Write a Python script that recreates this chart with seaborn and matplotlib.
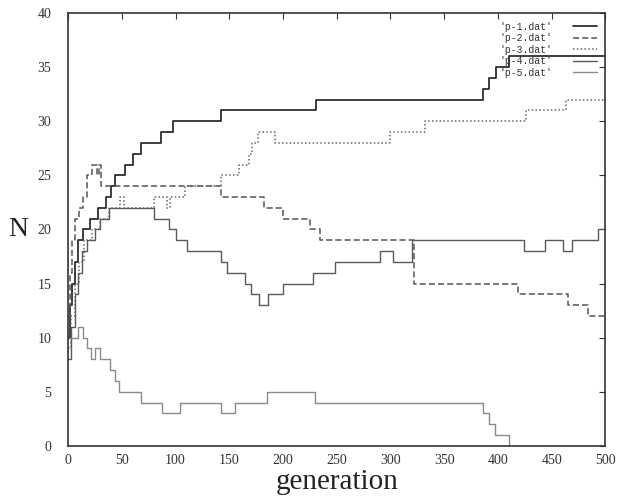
import matplotlib
matplotlib.use('Agg')
import matplotlib.pyplot as plt
import seaborn as sns
import pandas as pd

# change points (generation, N)
p1_gen = [0, 2, 4, 6, 9, 14, 20, 28, 35, 40, 44, 53, 60, 68, 86, 98, 142, 231, 386, 392, 398, 410, 500]
p1_n = [10, 13, 15, 17, 19, 20, 21, 22, 23, 24, 25, 26, 27, 28, 29, 30, 31, 32, 33, 34, 35, 36, 36]

p2_gen = [0, 2, 4, 6, 10, 14, 18, 22, 27, 29, 31, 142, 182, 200, 225, 234, 322, 419, 465, 484, 500]
p2_n = [12, 16, 19, 21, 22, 23, 25, 26, 25, 26, 24, 23, 22, 21, 20, 19, 15, 14, 13, 12, 12]

p3_gen = [0, 3, 6, 10, 15, 22, 30, 38, 48, 52, 80, 92, 95, 109, 142, 159, 168, 171, 177, 193, 300, 332, 426, 463, 500]
p3_n = [9, 12, 15, 17, 19, 20, 21, 22, 23, 22, 23, 22, 23, 24, 25, 26, 27, 28, 29, 28, 29, 30, 31, 32, 32]

p4_gen = [0, 3, 6, 9, 13, 18, 25, 30, 38, 80, 94, 100, 111, 142, 148, 165, 170, 178, 186, 200, 228, 248,
          290, 302, 320, 424, 444, 461, 469, 493, 500]
p4_n = [8, 11, 14, 16, 18, 19, 20, 21, 22, 21, 20, 19, 18, 17, 16, 15, 14, 13, 14, 15, 16, 17,
        18, 17, 19, 18, 19, 18, 19, 20, 20]

p5_gen = [0, 4, 9, 14, 18, 21, 25, 30, 39, 44, 47, 68, 87, 104, 142, 155, 185, 230, 386, 392, 397, 410, 412]
p5_n = [10, 10, 11, 10, 9, 8, 9, 8, 7, 6, 5, 4, 3, 4, 3, 4, 5, 4, 3, 2, 1, 0, 0]

labels = ["'p-1.dat'", "'p-2.dat'", "'p-3.dat'", "'p-4.dat'", "'p-5.dat'"]
series = [(p1_gen, p1_n), (p2_gen, p2_n), (p3_gen, p3_n), (p4_gen, p4_n), (p5_gen, p5_n)]
colors = ['#2e2e2e', '#555555', '#666666', '#5a5a5a', '#8a8a8a']
styles = ['-', (0, (4, 2)), (0, (1, 1.5)), '-', '-']
widths = [1.3, 1.1, 1.1, 1.0, 1.0]

sns.set_style("white")
plt.rcParams['font.family'] = ['Liberation Serif', 'DejaVu Serif']

fig, ax = plt.subplots(figsize=(6.19, 5.01), dpi=100)
fig.subplots_adjust(left=0.110, right=0.978, bottom=0.110, top=0.974)

for (g, n), lab, c, ls, lw in zip(series, labels, colors, styles, widths):
    df = pd.DataFrame({'generation': g, 'N': n})
    sns.lineplot(data=df, x='generation', y='N', ax=ax, color=c, linestyle=ls,
                 linewidth=lw, drawstyle='steps-post', label=lab, estimator=None)

ax.set_xlim(0, 500)
ax.set_ylim(0, 40)
ax.set_xticks(range(0, 501, 50))
ax.set_yticks(range(0, 41, 5))
ax.tick_params(direction='in', length=4, width=0.8, top=True, right=True,
               labelsize=10, colors='#333333', pad=6)
ax.tick_params(axis='y', pad=12)
for s in ax.spines.values():
    s.set_color('#333333')
    s.set_linewidth(1.2)

ax.set_xlabel('generation', fontsize=21, color='#222222', labelpad=1)
ax.set_ylabel('N', fontsize=20, color='#222222', rotation=0, labelpad=14, va='center')

leg = ax.legend(loc='upper right', frameon=False, markerfirst=False, handlelength=2.4,
                prop={'family': ['Liberation Mono', 'DejaVu Sans Mono'], 'size': 7},
                labelspacing=0.15, borderaxespad=0.5, handletextpad=2.2)
for t in leg.get_texts():
    t.set_color('#333333')

fig.savefig('out.png', dpi=100)
